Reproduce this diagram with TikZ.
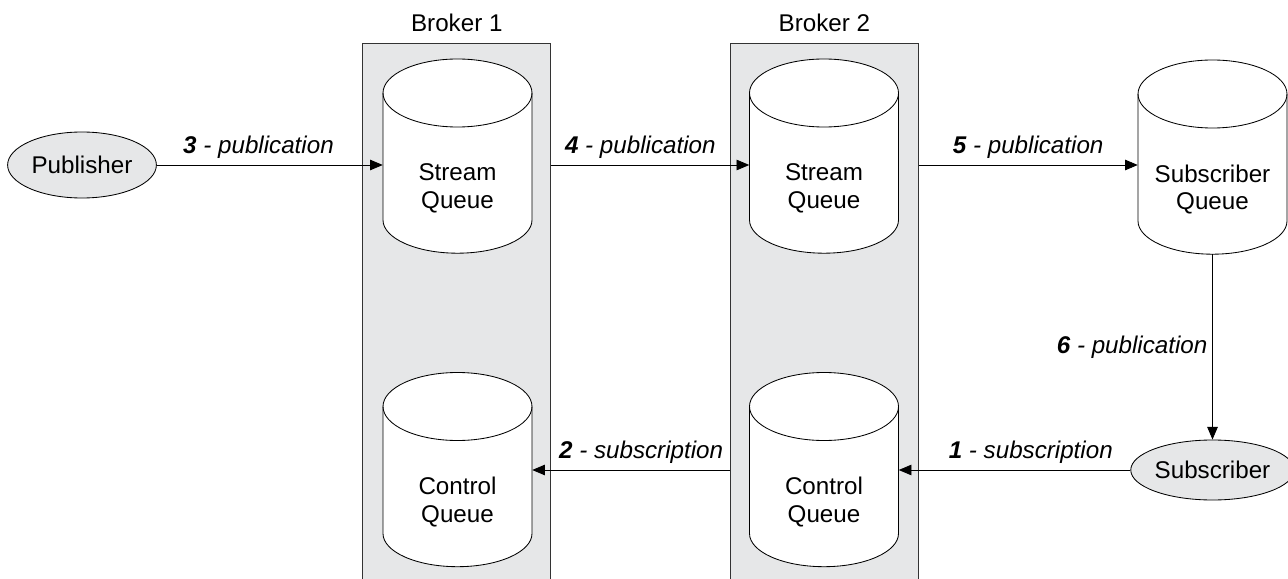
\documentclass[tikz,border=0pt]{standalone}
\usepackage{fontspec}
\setmainfont{Liberation Sans}
\usepackage{tikz}
\usetikzlibrary{positioning,arrows.meta,calc,shapes.geometric}

\definecolor{brokergray}{RGB}{230,231,232}

\tikzset{
  every node/.style={font=\fontsize{17.2}{19.6}\selectfont},
  broker/.style={draw=black!80, fill=brokergray, line width=0.6pt, minimum height=13.95cm, inner sep=0pt},
  actor/.style={ellipse, draw=black, fill=brokergray, line width=0.6pt, minimum width=3.72cm, inner sep=0pt},
  queueline/.style={draw=black, fill=white, line width=0.6pt},
  queuetext/.style={align=center, minimum width=3.725cm, inner xsep=0pt},
  flow/.style={-{Triangle[length=9pt,width=7.5pt]}, line width=0.6pt},
  lbl/.style={above, pos=0.45, yshift=1pt, font=\fontsize{17.2}{19.6}\selectfont\itshape},
  pics/queue/.style={code={
    \draw [queueline] (-1.8625,1.5875) -- (-1.8625,-1.5875)
      arc[start angle=180, end angle=360, x radius=1.8625, y radius=0.83]
      -- (1.8625,1.5875)
      arc[start angle=0, end angle=180, x radius=1.8625, y radius=0.85] -- cycle;
    \draw [line width=0.6pt] (-1.8625,1.5875) arc[start angle=180, end angle=360, x radius=1.8625, y radius=0.85];
    \node [queuetext] (-q) at (0,-0.8) {#1};
    \coordinate (-bottom) at (0,-2.4175);
  }}
}

\begin{document}
\begin{tikzpicture}
\clip (0,0) rectangle (32.2,14.45);

% brokers
\node [broker, minimum width=4.7cm] (b1) at (11.42,6.4) {};
\node [broker, minimum width=4.69cm] (b2) at (20.61,6.4) {};
\node [above=4pt of b1] (b1lbl) {Broker 1};
\node [above=4pt of b2] (b2lbl) {Broker 2};

% queues
\pic (sq1) at (11.4375,10.5375) {queue={Stream\\Queue}};
\pic (sq2) at (20.6,10.5375) {queue={Stream\\Queue}};
\pic (cq1) at (11.4375,2.7) {queue={Control\\Queue}};
\pic (cq2) at (20.6,2.7) {queue={Control\\Queue}};
\pic (subq) at (30.3125,10.5125) {queue={Subscriber\\Queue}};

% clients
\node [actor, minimum height=1.65cm] (pub) at (2.05,10.325) {Publisher};
\node [actor, minimum height=1.5cm] (sub) at (30.3125,2.7) {Subscriber};

% flows
\draw [flow] (pub) -- node[lbl] {\textbf{3} - publication} (pub -| sq1-q.west);
\draw [flow] (pub -| b1.east) -- node[lbl] {\textbf{4} - publication} (pub -| sq2-q.west);
\draw [flow] (pub -| b2.east) -- node[lbl, pos=0.5] {\textbf{5} - publication} (pub -| subq-q.west);
\draw [flow] (subq-bottom) -- node[midway, left, font=\fontsize{17.2}{19.6}\selectfont\itshape] {\textbf{6} - publication} (sub);
\draw [flow] (sub) -- node[lbl, pos=0.43] {\textbf{1} - subscription} (sub -| cq2-q.east);
\draw [flow] (sub -| b2.west) -- node[lbl] {\textbf{2} - subscription} (sub -| cq1-q.east);

\end{tikzpicture}
\end{document}
